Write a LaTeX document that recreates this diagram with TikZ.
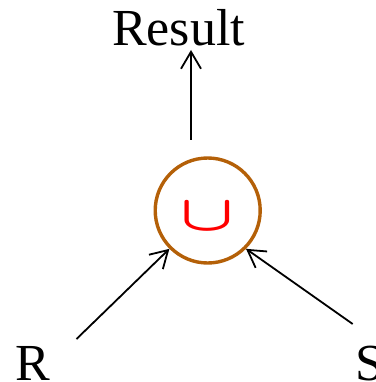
\documentclass[tikz,border=0pt]{standalone}
\usepackage{fontspec}
\usepackage{graphicx}
\setmainfont{Liberation Serif}
\usetikzlibrary{arrows.meta}
\definecolor{ringbrown}{RGB}{180,96,8}
\definecolor{cupred}{RGB}{255,0,0}
\tikzset{
  lbl/.style={inner sep=0pt, outer sep=0pt, font=\fontsize{52}{52}\selectfont, anchor=base west},
  conn/.style={line width=1.8pt, -{Straight Barb[length=17pt,width=20pt,line width=1.8pt]}},
  ring/.style={circle, draw=ringbrown, line width=3.4pt, minimum size=105pt, inner sep=0pt, outer sep=1.7pt}
}
\begin{document}
\begin{tikzpicture}[x=1pt,y=-1pt]
\useasboundingbox (0,0) rectangle (375,382);
\node[lbl] (res) at (112,46) {Result};
\node[lbl] (R) at (15,380) {R};
\node[lbl] (S) at (355,380) {S};
\node[ring] (U) at (207.7,210.5) {};
\node[inner sep=0pt, text=cupred] (cup) at (207.5,217) {\scalebox{7}[5]{\boldmath$\cup$}};
\coordinate (rstart) at (76.5,339);
\coordinate (sstart) at (352.7,324);
\coordinate (ustart) at (191,140);
\coordinate (resend) at (191,50);
\draw[conn] (ustart) -- (resend);
\draw[conn] (rstart) -- (U.-135);
\draw[conn] (sstart) -- (U.-45);
\end{tikzpicture}
\end{document}
